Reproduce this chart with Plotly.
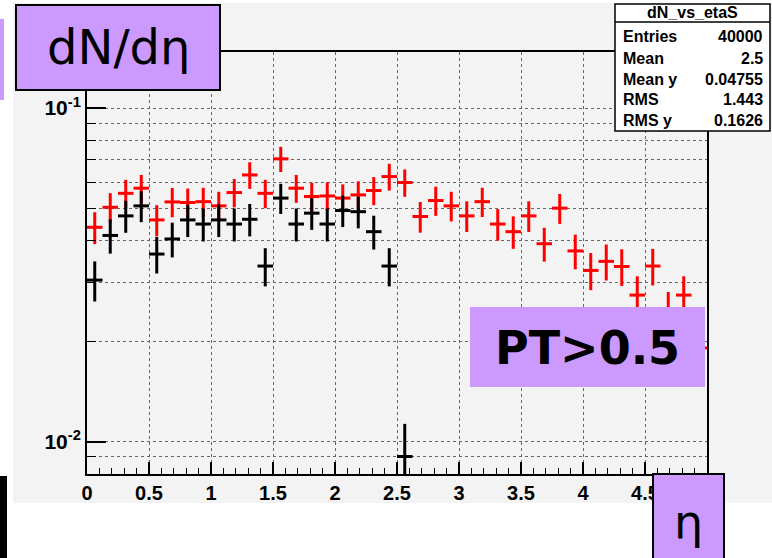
import plotly.graph_objects as go

# ---- data: dN/deta per eta bin (40 bins, 0 < eta < 5) ----
eta_centers = [0.0625, 0.1875, 0.3125, 0.4375, 0.5625, 0.6875, 0.8125, 0.9375,
               1.0625, 1.1875, 1.3125, 1.4375, 1.5625, 1.6875, 1.8125, 1.9375,
               2.0625, 2.1875, 2.3125, 2.4375, 2.5625, 2.6875, 2.8125, 2.9375,
               3.0625, 3.1875, 3.3125, 3.4375, 3.5625, 3.6875, 3.8125, 3.9375,
               4.0625, 4.1875, 4.3125, 4.4375, 4.5625, 4.6875, 4.8125, 4.9375]
half_bin = 0.0625

red_vals = [0.0439, 0.0504, 0.0555, 0.0575, 0.0462, 0.0523, 0.0521, 0.0524,
            0.0509, 0.0558, 0.0630, 0.0555, 0.0704, 0.0575, 0.0543, 0.0545,
            0.0537, 0.0549, 0.0566, 0.0623, 0.0598, 0.0473, 0.0528, 0.0509,
            0.0475, 0.0524, 0.0449, 0.0426, 0.0475, 0.0392, 0.0501, 0.0373,
            0.0326, 0.0347, 0.0335, 0.0275, 0.0336, 0.0245, 0.0275, 0.0191]
red_errs = [0.00482, 0.00516, 0.00542, 0.00552, 0.00494, 0.00526, 0.00525, 0.00527,
            0.00519, 0.00543, 0.00577, 0.00542, 0.00610, 0.00552, 0.00536, 0.00537,
            0.00533, 0.00539, 0.00547, 0.00574, 0.00562, 0.00500, 0.00528, 0.00519,
            0.00501, 0.00527, 0.00487, 0.00475, 0.00501, 0.00455, 0.00515, 0.00444,
            0.00415, 0.00428, 0.00421, 0.00381, 0.00422, 0.00360, 0.00381, 0.00318]

black_vals = [0.0305, 0.0415, 0.0475, 0.0509, 0.0365, 0.0405, 0.0462, 0.0449,
              0.0462, 0.0449, 0.0464, 0.0336, 0.0537, 0.0449, 0.0484, 0.0449,
              0.0493, 0.0489, 0.0426, 0.0336, 0.00903]
black_errs = [0.00419, 0.00489, 0.00523, 0.00541, 0.00458, 0.00483, 0.00516, 0.00509,
              0.00516, 0.00509, 0.00517, 0.00440, 0.00556, 0.00509, 0.00528, 0.00509,
              0.00533, 0.00531, 0.00495, 0.00440, 0.00228]

x_ticks = [0, 0.5, 1, 1.5, 2, 2.5, 3, 3.5, 4, 4.5]
y_ticks = [0.01, 0.1]
y_ticktext = ["10<sup>-2</sup>", "10<sup>-1</sup>"]
y_minor = [0.009, 0.02, 0.03, 0.04, 0.05, 0.06, 0.07, 0.08, 0.09]

stats_title = "dN_vs_etaS"
stats_names = ["Entries", "Mean", "Mean y", "RMS", "RMS y"]
stats_values = ["40000", "2.5", "0.04755", "1.443", "0.1626"]

# ---- page geometry (pixels) ----
W, H = 772, 558
L, R, T, B = 87, 707, 52, 474


def px(x):
    return (x - L) / (R - L)


def py(y):
    return (B - y) / (B - T)


LILAC = "#cc99ff"
CANVAS = "#f3f3f3"
GRID = "#666666"

fig = go.Figure()


def hist_trace(x, y, err, color):
    return go.Scatter(
        x=x, y=y, mode="markers",
        marker=dict(size=1, color=color),
        error_y=dict(type="data", array=err, color=color, thickness=3, width=0),
        error_x=dict(type="constant", value=half_bin, color=color, thickness=3, width=0),
        showlegend=False, hoverinfo="skip",
    )


fig.add_trace(hist_trace(eta_centers, red_vals, red_errs, "#ff0000"))
fig.add_trace(hist_trace(eta_centers[:len(black_vals)], black_vals, black_errs, "#000000"))

shapes = [
    # canvas background
    dict(type="rect", xref="paper", yref="paper", x0=px(13), x1=px(772), y0=py(503), y1=py(3),
         fillcolor=CANVAS, line=dict(width=0), layer="below"),
    # stray pieces at the left edge
    dict(type="rect", xref="paper", yref="paper", x0=px(-2), x1=px(4), y0=py(100), y1=py(19),
         fillcolor=LILAC, line=dict(width=0), layer="above"),
    dict(type="rect", xref="paper", yref="paper", x0=px(-2), x1=px(7), y0=py(562), y1=py(476),
         fillcolor="#000000", line=dict(width=0), layer="above"),
    # stats box
    dict(type="rect", xref="paper", yref="paper", x0=px(615), x1=px(770), y0=py(131), y1=py(4),
         fillcolor="white", line=dict(color="black", width=1.5), layer="above"),
    dict(type="line", xref="paper", yref="paper", x0=px(615), x1=px(770), y0=py(22), y1=py(22),
         line=dict(color="black", width=1.5), layer="above"),
    # label boxes
    dict(type="rect", xref="paper", yref="paper", x0=px(16), x1=px(220), y0=py(90), y1=py(5),
         fillcolor=LILAC, line=dict(color="black", width=2), layer="above"),
    dict(type="rect", xref="paper", yref="paper", x0=px(470), x1=px(705), y0=py(387), y1=py(307),
         fillcolor=LILAC, line=dict(width=0), layer="above"),
    dict(type="rect", xref="paper", yref="paper", x0=px(653), x1=px(724), y0=py(562), y1=py(474),
         fillcolor=LILAC, line=dict(color="black", width=2), layer="above"),
]

ann = []
stat_font = dict(family="Liberation Sans", size=16, color="black", weight="bold")
ann.append(dict(x=px(692), y=py(13), text=stats_title, font=stat_font,
                xanchor="center", yanchor="middle"))
for i, (n, v) in enumerate(zip(stats_names, stats_values)):
    yy = py(37 + 21 * i)
    ann.append(dict(x=px(621), y=yy, text=n, font=stat_font, xanchor="left", yanchor="middle"))
    ann.append(dict(x=px(765), y=yy, text=v, font=stat_font, xanchor="right", yanchor="middle"))

ann.append(dict(x=px(118), y=py(47), text="dN/dη",
                font=dict(family="DejaVu Sans", size=48, color="black"),
                xanchor="center", yanchor="middle"))
ann.append(dict(x=px(587), y=py(348), text="PT>0.5",
                font=dict(family="DejaVu Sans", size=46, color="black", weight="bold"),
                xanchor="center", yanchor="middle"))
ann.append(dict(x=px(688), y=py(522), text="η",
                font=dict(family="DejaVu Sans", size=46, color="black"),
                xanchor="center", yanchor="middle"))
for a in ann:
    a.update(xref="paper", yref="paper", showarrow=False)

fig.update_layout(
    width=W, height=H,
    margin=dict(l=L, r=W - R, t=T, b=H - B, pad=0),
    paper_bgcolor="white",
    plot_bgcolor=CANVAS,
    shapes=shapes,
    annotations=ann,
    xaxis=dict(
        range=[0, 5], tickvals=x_ticks, ticks="inside", ticklen=12, tickwidth=1.5,
        tickcolor="black", showline=True, linecolor="black", linewidth=2, mirror=True,
        showgrid=True, gridcolor=GRID, griddash="dot", gridwidth=1, zeroline=False,
        tickfont=dict(family="Liberation Sans", size=20, color="black", weight="bold"),
        minor=dict(dtick=0.1, tick0=0, ticks="inside", ticklen=6, tickcolor="black",
                   tickwidth=1, showgrid=False),
    ),
    yaxis=dict(
        type="log", range=[-2.0968, -0.8322], tickvals=y_ticks, ticktext=y_ticktext,
        ticks="inside", ticklen=19, tickwidth=1.5, tickcolor="black",
        showline=True, linecolor="black", linewidth=2, mirror=True,
        showgrid=True, gridcolor=GRID, griddash="dot", gridwidth=1, zeroline=False,
        tickfont=dict(family="Liberation Sans", size=21, color="black", weight="bold"),
        minor=dict(tickvals=y_minor, ticks="inside", ticklen=9, tickcolor="black",
                   tickwidth=1, showgrid=True, gridcolor=GRID, griddash="dot", gridwidth=1),
    ),
)

fig.write_html("out.html")
